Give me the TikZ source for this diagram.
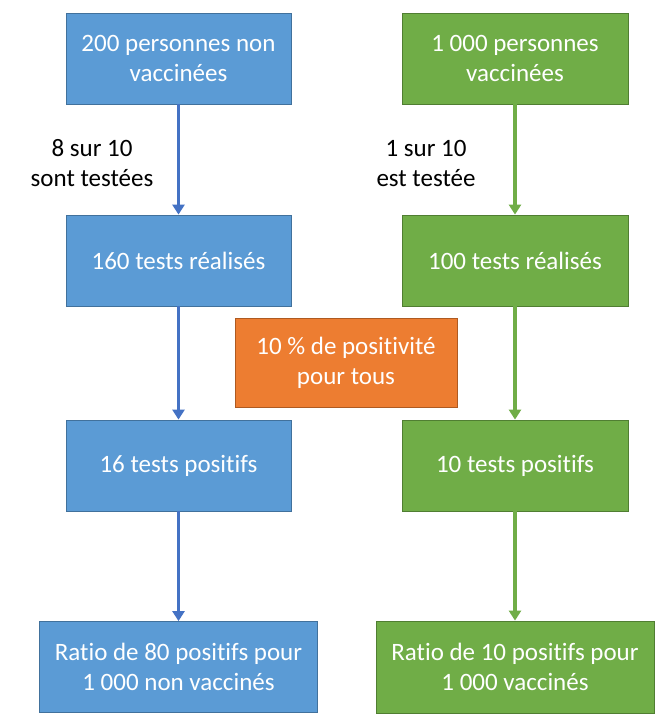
\documentclass[tikz,border=0pt]{standalone}
\usepackage{fontspec}
\setmainfont[Ligatures=NoCommon]{Carlito}
\usetikzlibrary{arrows.meta}
\definecolor{bfill}{HTML}{5B9BD5}
\definecolor{bdraw}{HTML}{41719C}
\definecolor{gfill}{HTML}{70AD47}
\definecolor{gdraw}{HTML}{507E32}
\definecolor{ofill}{HTML}{ED7D31}
\definecolor{odraw}{HTML}{AE5A21}
\definecolor{barrow}{HTML}{4472C4}
\tikzset{
  boxbase/.style={rectangle, line width=0.8pt, text=white, align=center,
    font=\fontsize{25}{30}\selectfont, inner sep=0pt},
  bluebox/.style={boxbase, fill=bfill, draw=bdraw},
  greenbox/.style={boxbase, fill=gfill, draw=gdraw},
  orangebox/.style={boxbase, fill=ofill, draw=odraw},
  barr/.style={draw=barrow, line width=3.2pt, -{Triangle[length=10pt,width=12pt]}},
  garr/.style={draw=gfill, line width=3.2pt, -{Triangle[length=10pt,width=12pt]}},
  lbl/.style={align=center, font=\fontsize{25}{30}\selectfont, text=black}
}
\begin{document}
\begin{tikzpicture}[x=1pt,y=-1pt]
\useasboundingbox (0,0) rectangle (666,721);
% column 1
\node[bluebox, minimum width=225pt, minimum height=91pt] (b1) at (178.5,58.5) {200 personnes non\\vaccinées};
\node[bluebox, minimum width=225pt, minimum height=91pt] (b2) at (178.5,260.5) {160 tests réalisés};
\node[bluebox, minimum width=225pt, minimum height=91pt] (b3) at (178.5,465.5) {16 tests positifs};
\node[bluebox, minimum width=278pt, minimum height=91pt] (b4) at (178.5,667) {Ratio de 80 positifs pour\\1 000 non vaccinés};
% column 2
\node[greenbox, minimum width=226pt, minimum height=91pt] (g1) at (515,58.5) {1 000 personnes\\vaccinées};
\node[greenbox, minimum width=226pt, minimum height=91pt] (g2) at (515,260.5) {100 tests réalisés};
\node[greenbox, minimum width=226pt, minimum height=91pt] (g3) at (515,465.5) {10 tests positifs};
\node[greenbox, minimum width=278pt, minimum height=92pt] (g4) at (515,667) {Ratio de 10 positifs pour\\1 000 vaccinés};
% middle
\node[orangebox, minimum width=222pt, minimum height=89pt] (o) at (346,362.5) {10 \% de positivité\\pour tous};
% labels
\node[lbl] (l1) at (92,163) {8 sur 10\\sont testées};
\node[lbl] (l2) at (426,163) {1 sur 10\\est testée};
% arrows
\draw[barr] (b1) -- (b2);
\draw[barr] (b2) -- (b3);
\draw[barr] (b3) -- (b4);
\draw[garr] (g1) -- (g2);
\draw[garr] (g2) -- (g3);
\draw[garr] (g3) -- (g4);
\end{tikzpicture}
\end{document}
